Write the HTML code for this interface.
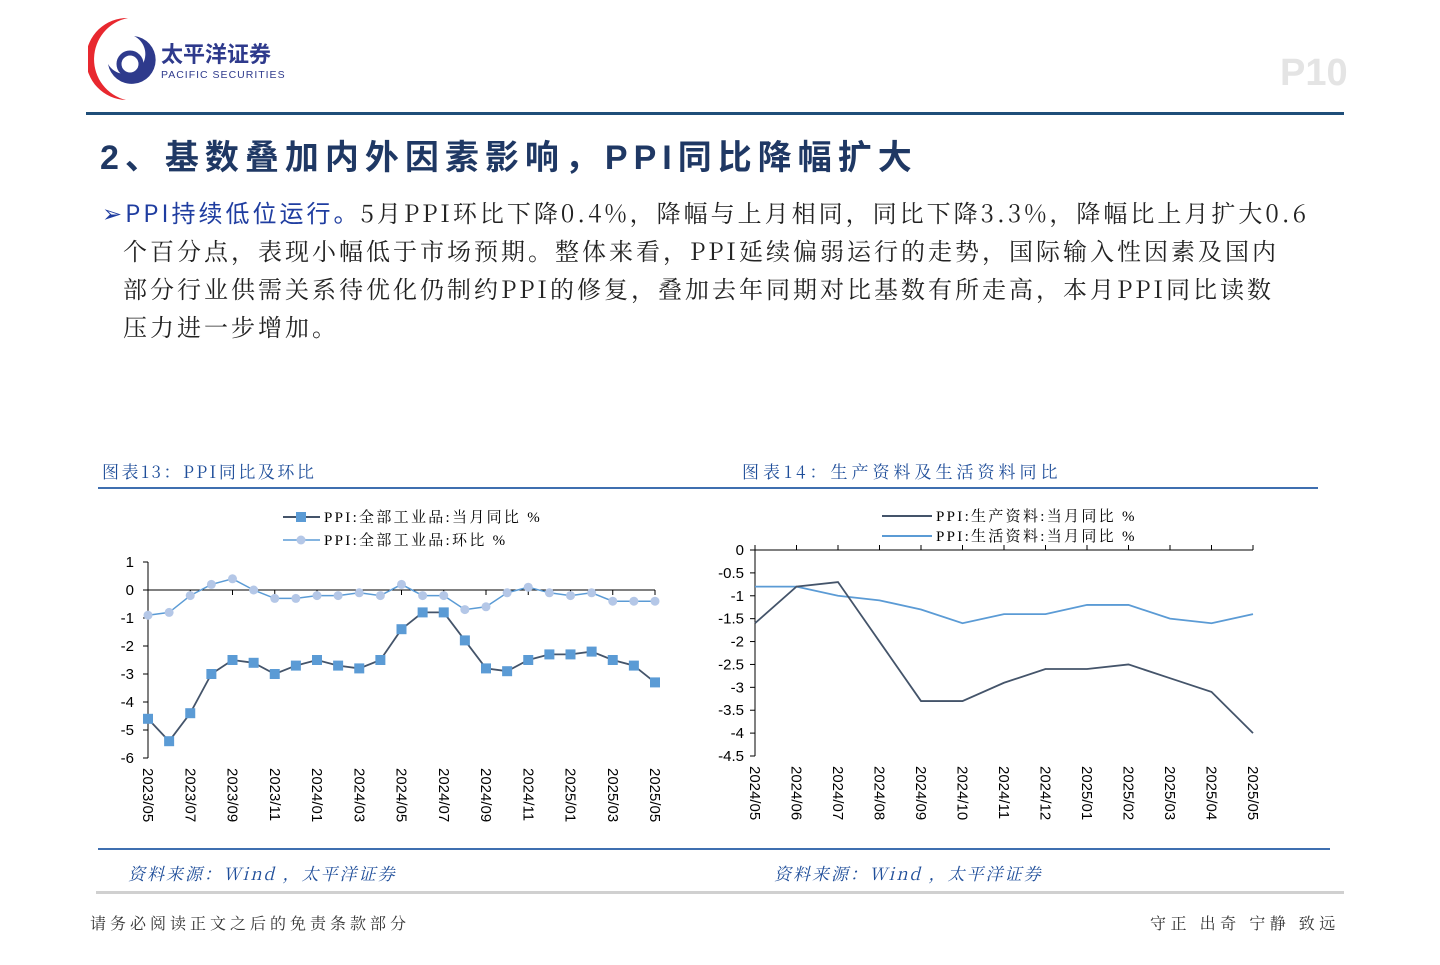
<!DOCTYPE html>
<html><head><meta charset="utf-8"><style>
body{margin:0;width:1440px;height:965px;background:#fff;position:relative;overflow:hidden;font-family:"Liberation Sans","Noto Sans CJK SC",sans-serif}
.a{position:absolute;white-space:nowrap}
</style></head><body>
<svg class="a" style="left:88px;top:14px" width="200" height="90">
<path d="M40 4 A42 42 0 0 0 38 86 A38 38 0 0 1 40 4Z" fill="#e8282f"/>
<path d="M46 22 A24 24 0 1 1 20 50 A20 20 0 1 0 46 22Z" fill="#2e3a8c"/>
<circle cx="42" cy="50" r="11" fill="none" stroke="#2e3a8c" stroke-width="5"/>
<text x="73" y="48" font-size="22" font-weight="bold" fill="#2e3a8c" font-family="Noto Sans CJK SC">太平洋证券</text>
<text x="73" y="64" font-size="10.5" fill="#2e3a8c" letter-spacing="1">PACIFIC SECURITIES</text>
</svg>
<div class="a" style="left:1280px;top:52px;font-size:38px;font-weight:bold;color:#e4e4e4">P10</div>
<div class="a" style="left:86px;top:112px;width:1258px;height:3px;background:#1f4e79"></div>
<div class="a" style="left:100px;top:130px;font-size:34px;font-weight:bold;color:#1f3864;letter-spacing:6px;font-family:'Liberation Sans','Noto Sans CJK SC',sans-serif">2、基数叠加内外因素影响，PPI同比降幅扩大</div>
<div class="a" style="left:102px;top:193px;width:1260px;white-space:normal;font-size:24px;line-height:38px;color:#222;letter-spacing:3px;font-family:'Noto Serif CJK SC',serif"><span style="color:#1f3da0;font-family:'Noto Sans CJK SC'">➢PPI持续低位运行。</span>5月PPI环比下降0.4%，降幅与上月相同，同比下降3.3%，降幅比上月扩大0.6<br><span style="padding-left:21px">个百分点，表现小幅低于市场预期。整体来看，PPI延续偏弱运行的走势，国际输入性因素及国内</span><br><span style="padding-left:21px">部分行业供需关系待优化仍制约PPI的修复，叠加去年同期对比基数有所走高，本月PPI同比读数</span><br><span style="padding-left:21px">压力进一步增加。</span></div>
<div class="a" style="left:102px;top:458px;font-size:17px;color:#1f4e9a;letter-spacing:2.5px;font-family:'Noto Serif CJK SC',serif">图表13：PPI同比及环比</div>
<div class="a" style="left:742px;top:458px;font-size:17px;color:#1f4e9a;letter-spacing:4px;font-family:'Noto Serif CJK SC',serif">图表14：生产资料及生活资料同比</div>
<div class="a" style="left:98px;top:487px;width:1220px;height:2px;background:#3f6fb0"></div>
<div class="a" style="left:98px;top:848px;width:1232px;height:2px;background:#3f6fb0"></div>
<div class="a" style="left:128px;top:860px;font-size:17px;font-style:italic;color:#1f4e9a;letter-spacing:2px;font-family:'Noto Serif CJK SC',serif">资料来源：Wind ，太平洋证券</div>
<div class="a" style="left:774px;top:860px;font-size:17px;font-style:italic;color:#1f4e9a;letter-spacing:2px;font-family:'Noto Serif CJK SC',serif">资料来源：Wind ，太平洋证券</div>
<div class="a" style="left:96px;top:891px;width:1248px;height:3px;background:#d0d0d0"></div>
<div class="a" style="left:90px;top:911px;font-size:16px;color:#333;letter-spacing:4px;font-family:'Noto Serif CJK SC',serif">请务必阅读正文之后的免责条款部分</div>
<div class="a" style="left:1150px;top:911px;font-size:16px;color:#333;letter-spacing:4.5px;font-family:'Noto Serif CJK SC',serif">守正 出奇 宁静 致远</div>
<svg id="c1" class="a" style="left:0;top:0" width="1440" height="965"></svg>
<script>
const cats1=["2023/05","2023/06","2023/07","2023/08","2023/09","2023/10","2023/11","2023/12","2024/01","2024/02","2024/03","2024/04","2024/05","2024/06","2024/07","2024/08","2024/09","2024/10","2024/11","2024/12","2025/01","2025/02","2025/03","2025/04","2025/05"];
const yoy1=[-4.6,-5.4,-4.4,-3.0,-2.5,-2.6,-3.0,-2.7,-2.5,-2.7,-2.8,-2.5,-1.4,-0.8,-0.8,-1.8,-2.8,-2.9,-2.5,-2.3,-2.3,-2.2,-2.5,-2.7,-3.3];
const mom1=[-0.9,-0.8,-0.2,0.2,0.4,0,-0.3,-0.3,-0.2,-0.2,-0.1,-0.2,0.2,-0.2,-0.2,-0.7,-0.6,-0.1,0.1,-0.1,-0.2,-0.1,-0.4,-0.4,-0.4];
const ticks1=[1,0,-1,-2,-3,-4,-5,-6];
const cats2=["2024/05","2024/06","2024/07","2024/08","2024/09","2024/10","2024/11","2024/12","2025/01","2025/02","2025/03","2025/04","2025/05"];
const prod2=[-1.6,-0.8,-0.7,-2.0,-3.3,-3.3,-2.9,-2.6,-2.6,-2.5,-2.8,-3.1,-4.0];
const life2=[-0.8,-0.8,-1.0,-1.1,-1.3,-1.6,-1.4,-1.4,-1.2,-1.2,-1.5,-1.6,-1.4];
const ticks2=[0,-0.5,-1,-1.5,-2,-2.5,-3,-3.5,-4,-4.5];
const svg=document.getElementById('c1');const NS='http://www.w3.org/2000/svg';
function el(t,a,txt){const e=document.createElementNS(NS,t);for(const k in a)e.setAttribute(k,a[k]);if(txt!=null)e.textContent=txt;svg.appendChild(e);return e;}
// chart 1
const x1=i=>148+i*(655-148)/(cats1.length-1);const y1=v=>590-v*28;
let e=el('line',{x1:148,y1:562,x2:148,y2:758,stroke:'#000'});

e=el('line',{x1:148,y1:y1(0),x2:655,y2:y1(0),stroke:'#000'});

ticks1.forEach(t=>{el('line',{x1:143,y1:y1(t),x2:148,y2:y1(t),stroke:'#000'});
e=el('text',{x:134,y:y1(t)+5,'font-size':15,'text-anchor':'end'},t);
});
cats1.forEach((c,i)=>{if(i%2==0){el('line',{x1:x1(i),y1:y1(0),x2:x1(i),y2:y1(0)+5,stroke:'#000'});
e=el('text',{x:0,y:0,'font-size':15,transform:`translate(${x1(i)-5},768) rotate(90)`},c);
}});
e=el('polyline',{points:mom1.map((v,i)=>x1(i)+','+y1(v)).join(' '),fill:'none',stroke:'#5b9bd5','stroke-width':1.5});

mom1.forEach((v,i)=>{e=el('circle',{cx:x1(i),cy:y1(v),r:4.5,fill:'#b4c7e7'});
});
e=el('polyline',{points:yoy1.map((v,i)=>x1(i)+','+y1(v)).join(' '),fill:'none',stroke:'#44546a','stroke-width':1.8});

yoy1.forEach((v,i)=>{e=el('rect',{x:x1(i)-5,y:y1(v)-5,width:10,height:10,fill:'#5b9bd5'});
});
el('line',{x1:283,y1:517,x2:320,y2:517,stroke:'#44546a','stroke-width':2});el('rect',{x:296,y:512,width:10,height:10,fill:'#5b9bd5'});
e=el('text',{x:324,y:522,'font-size':15,'letter-spacing':2.3,'font-family':'Liberation Serif,Noto Serif CJK SC,serif'},'PPI:全部工业品:当月同比 %');

el('line',{x1:283,y1:540,x2:320,y2:540,stroke:'#5b9bd5','stroke-width':1.5});el('circle',{cx:301,cy:540,r:4.5,fill:'#b4c7e7'});
e=el('text',{x:324,y:545,'font-size':15,'letter-spacing':2.3,'font-family':'Liberation Serif,Noto Serif CJK SC,serif'},'PPI:全部工业品:环比 %');

// chart 2
const x2=i=>755+i*(1253-755)/(cats2.length-1);const y2=v=>550-v*(206/4.5);
e=el('line',{x1:755,y1:550,x2:755,y2:756,stroke:'#000'});

e=el('line',{x1:755,y1:550,x2:1253,y2:550,stroke:'#000'});

ticks2.forEach(t=>{el('line',{x1:750,y1:y2(t),x2:755,y2:y2(t),stroke:'#000'});
e=el('text',{x:744,y:y2(t)+5,'font-size':15,'text-anchor':'end'},t);
});
cats2.forEach((c,i)=>{el('line',{x1:x2(i),y1:550,x2:x2(i),y2:545,stroke:'#000'});
e=el('text',{x:0,y:0,'font-size':15,transform:`translate(${x2(i)-5},766) rotate(90)`},c);
});
e=el('polyline',{points:life2.map((v,i)=>x2(i)+','+y2(v)).join(' '),fill:'none',stroke:'#5b9bd5','stroke-width':1.8});

e=el('polyline',{points:prod2.map((v,i)=>x2(i)+','+y2(v)).join(' '),fill:'none',stroke:'#44546a','stroke-width':1.8});

el('line',{x1:882,y1:516,x2:932,y2:516,stroke:'#44546a','stroke-width':2});
e=el('text',{x:936,y:521,'font-size':15,'letter-spacing':2.3,'font-family':'Liberation Serif,Noto Serif CJK SC,serif'},'PPI:生产资料:当月同比 %');

el('line',{x1:882,y1:536,x2:932,y2:536,stroke:'#5b9bd5','stroke-width':2});
e=el('text',{x:936,y:541,'font-size':15,'letter-spacing':2.3,'font-family':'Liberation Serif,Noto Serif CJK SC,serif'},'PPI:生活资料:当月同比 %');

</script>
</body></html>
